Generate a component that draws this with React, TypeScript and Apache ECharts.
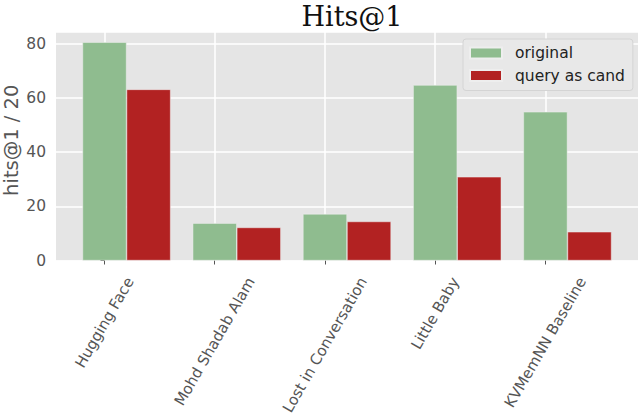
import React, { useEffect, useRef } from "react";
import * as echarts from "echarts";

const categories = [
  "Hugging Face",
  "Mohd Shadab Alam",
  "Lost in Conversation",
  "Little Baby",
  "KVMemNN Baseline",
];
const originalValues = [80.6, 13.8, 17.2, 64.8, 54.9];
const queryValues = [63.2, 12.2, 14.4, 30.9, 10.6];
const yTicks = [0, 20, 40, 60, 80];
const seriesNames = ["original", "query as cand"];

const GREEN = "#8FBC8F";
const RED = "#B22222";
const X_LABEL_SIZE = 15;
const LABEL_FONT = `${X_LABEL_SIZE}px 'DejaVu Sans'`;

function measure(text: string, font: string): number {
  const ctx = document.createElement("canvas").getContext("2d");
  if (!ctx) return text.length * 8;
  ctx.font = font;
  return ctx.measureText(text).width;
}

export default function App() {
  const ref = useRef<HTMLDivElement>(null);

  useEffect(() => {
    if (!ref.current) return;
    const chart = echarts.init(ref.current, undefined, { renderer: "svg" });
    const tickIdx = categories.map((_, i) => i);
    const xMin = -0.44;
    const xMax = 4.84;
    const barShift = 0.4;

    const labelAxes = categories.map((name, i) => {
      const L = measure(name, LABEL_FONT);
      return {
        type: "value",
        gridIndex: 0,
        position: "bottom",
        min: xMin,
        max: xMax,
        axisLine: { show: false },
        axisTick: { show: false },
        splitLine: { show: false },
        axisLabel: {
          customValues: [i],
          rotate: 60,
          align: "center",
          verticalAlign: "middle",
          margin: 18 + 0.433 * L,
          formatter: () => name,
          fontFamily: "DejaVu Sans",
          fontSize: X_LABEL_SIZE,
          color: "#555555",
        },
      };
    });

    chart.setOption({
      animation: false,
      backgroundColor: "#ffffff",
      title: {
        text: "Hits@1",
        left: 347,
        textAlign: "center",
        top: -2,
        textStyle: {
          fontFamily: "DejaVu Serif",
          fontSize: 27,
          fontWeight: "normal",
          color: "#111111",
        },
      },
      legend: {
        orient: "vertical",
        left: 463,
        top: 39,
        itemWidth: 32,
        itemHeight: 11,
        itemGap: 6.5,
        icon: "rect",
        padding: [6, 8, 7, 6],
        backgroundColor: "#E8E8E8",
        borderColor: "#D4D4D4",
        borderWidth: 1,
        borderRadius: 3,
        textStyle: {
          fontFamily: "DejaVu Sans",
          fontSize: 15.5,
          color: "#222222",
          padding: [0, 0, 0, 8],
        },
        data: seriesNames,
      },
      grid: {
        left: 56,
        right: 2,
        top: 32,
        bottom: 156.5,
        show: true,
        backgroundColor: "#E5E5E5",
        borderWidth: 0,
        containLabel: false,
        outerBoundsMode: "none",
      },
      xAxis: [
        {
          type: "value",
          min: xMin,
          max: xMax,
          axisLine: { show: false },
          axisTick: {
            show: true,
            customValues: tickIdx,
            length: 4,
            lineStyle: { color: "#555555", width: 1 },
          },
          axisLabel: { show: false, customValues: tickIdx },
          splitLine: {
            show: true,
            lineStyle: { color: "#ffffff", width: 1.5 },
          },
        },
        ...labelAxes,
      ],
      yAxis: {
        type: "value",
        min: 0,
        max: 84.4,
        interval: 20,
        name: "hits@1 / 20",
        nameLocation: "middle",
        nameGap: 35,
        nameMoveOverlap: false,
        nameTextStyle: {
          fontFamily: "DejaVu Sans",
          fontSize: 19.5,
          color: "#555555",
          padding: [0, 0, 0, 12],
        },
        axisLine: { show: false },
        axisTick: {
          show: true,
          length: 4,
          lineStyle: { color: "#555555", width: 1 },
        },
        axisLabel: {
          fontFamily: "DejaVu Sans",
          fontSize: 15.5,
          color: "#555555",
          margin: 10,
          showMaxLabel: false,
          formatter: (v: number) => (yTicks.includes(v) ? String(v) : ""),
        },
        splitLine: {
          show: true,
          lineStyle: { color: "#ffffff", width: 1.5 },
        },
      },
      series: [
        {
          name: seriesNames[0],
          type: "bar",
          xAxisIndex: 0,
          barWidth: 44,
          barGap: "-100%",
          itemStyle: { color: GREEN, borderColor: "#EEEEEE", borderWidth: 0.5 },
          data: originalValues.map((v, i) => [i, v]),
        },
        {
          name: seriesNames[1],
          type: "bar",
          xAxisIndex: 0,
          barWidth: 44,
          barGap: "-100%",
          itemStyle: { color: RED, borderColor: "#EEEEEE", borderWidth: 0.5 },
          data: queryValues.map((v, i) => [i + barShift, v]),
        },
      ],
    });
    return () => chart.dispose();
  }, []);

  return (
    <div
      ref={ref}
      style={{ position: "absolute", left: 0, top: 0, width: 640, height: 417 }}
    />
  );
}
